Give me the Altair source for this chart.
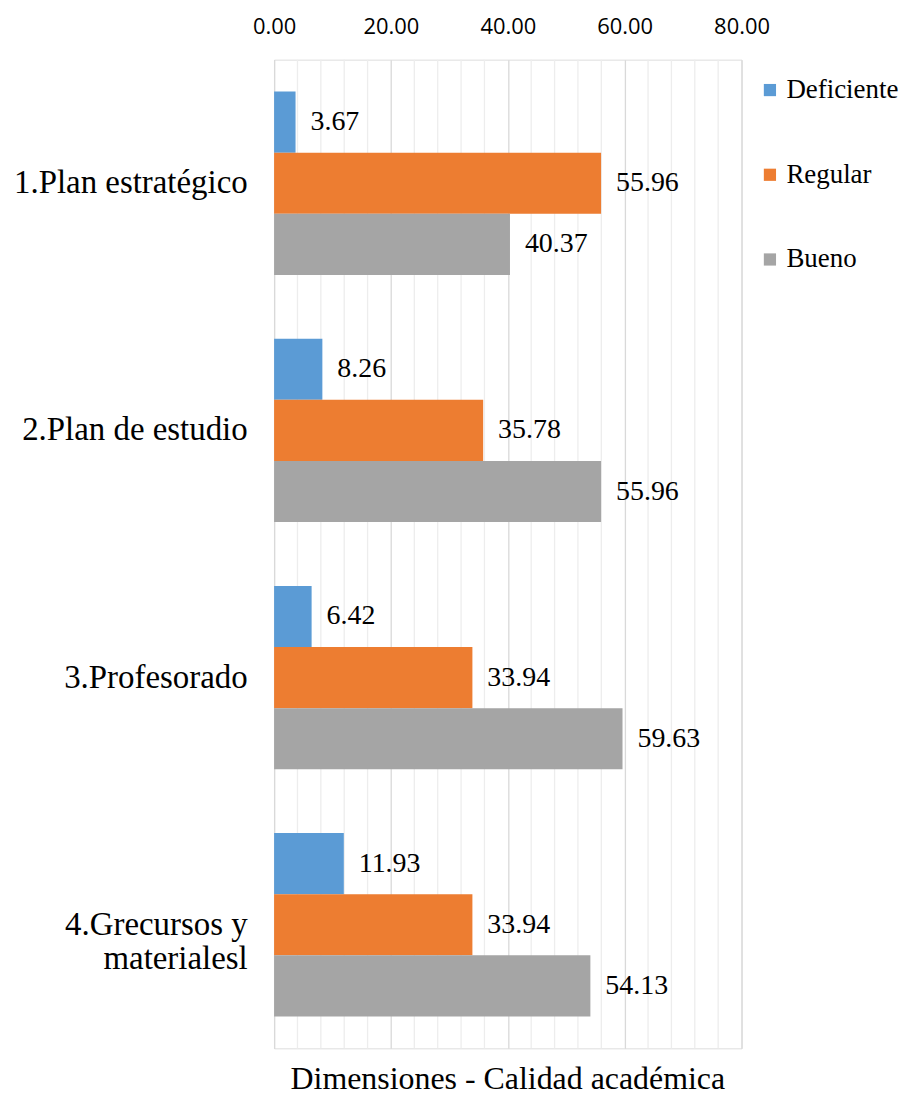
import altair as alt
import pandas as pd

categories = ["1.Plan estratégico", "2.Plan de estudio", "3.Profesorado", "4.Grecursos y materialesl"]
series = ["Deficiente", "Regular", "Bueno"]
deficiente = [3.67, 8.26, 6.42, 11.93]
regular = [55.96, 35.78, 33.94, 33.94]
bueno = [40.37, 55.96, 59.63, 54.13]
colors = ["#5B9BD5", "#ED7D31", "#A5A5A5"]
major_ticks = [0, 20, 40, 60, 80]
minor_ticks = [v for v in range(0, 81, 4) if v % 20 != 0]

rows = []
for s, vals in zip(series, [deficiente, regular, bueno]):
    for c, v in zip(categories, vals):
        rows.append({"cat": c, "serie": s, "valor": v})
df = pd.DataFrame(rows)

SERIF = "Liberation Serif, Times New Roman, serif"

x_scale = alt.Scale(domain=[0, 80], nice=False)
x_axis = alt.Axis(
    orient="top",
    title=None,
    values=major_ticks,
    format=".2f",
    ticks=False,
    domain=False,
    labelFont="Open Sans",
    labelFontSize=22,
    labelColor="black",
    labelPadding=21,
    labelOverlap=False,
    labelFlush=False,
    grid=True,
    gridColor="#D9D9D9",
    gridWidth=1.3,
)

minor = alt.Chart(pd.DataFrame({"t": minor_ticks})).mark_rule(
    color="#EDEDED", strokeWidth=1.3
).encode(x=alt.X("t:Q", scale=x_scale, axis=x_axis))

y_enc = alt.Y(
    "cat:N",
    sort=categories,
    scale=alt.Scale(paddingInner=0.258, paddingOuter=0.129),
    axis=alt.Axis(
        title=None,
        ticks=False,
        domain=True,
        domainColor="#D9D9D9",
        labelFont=SERIF,
        labelFontSize=33,
        labelColor="black",
        labelPadding=27,
        labelLimit=400,
        labelLineHeight=34,
        labelExpr="datum.label == '4.Grecursos y materialesl' ? ['4.Grecursos y', 'materialesl'] : datum.label",
    ),
)
yoff_enc = alt.YOffset("serie:N", sort=series, scale=alt.Scale(paddingInner=0, paddingOuter=0))

bars = alt.Chart(df).mark_bar().encode(
    y=y_enc,
    yOffset=yoff_enc,
    x=alt.X("valor:Q", scale=x_scale, axis=x_axis),
    color=alt.Color(
        "serie:N",
        sort=series,
        scale=alt.Scale(domain=series, range=colors),
        legend=alt.Legend(
            title=None,
            orient="none",
            legendX=484,
            legendY=17,
            padding=0,
            symbolType="square",
            symbolSize=150,
            symbolStrokeWidth=0,
            labelFont=SERIF,
            labelFontSize=27,
            labelColor="black",
            labelOffset=3,
            rowPadding=57,
        ),
    ),
)

labels = alt.Chart(df).mark_text(
    align="left", baseline="middle", dx=15, font=SERIF, fontSize=28, color="black"
).encode(
    y=alt.Y("cat:N", sort=categories),
    yOffset=alt.YOffset("serie:N", sort=series),
    x=alt.X("valor:Q", scale=x_scale, axis=x_axis),
    text=alt.Text("valor:Q", format=".2f"),
)

chart = (
    alt.layer(minor, bars, labels)
    .properties(
        width=469,
        height=992,
        padding={"left": 5, "top": 6, "right": 0, "bottom": 0},
        title=alt.TitleParams(
            "Dimensiones - Calidad académica",
            orient="bottom",
            font=SERIF,
            fontSize=32,
            fontWeight="normal",
            color="black",
            offset=15,
        ),
    )
    .configure_view(stroke=None)
    .configure(background="white")
)

chart.save("out.html", embed_options={"renderer": "svg", "actions": False})
